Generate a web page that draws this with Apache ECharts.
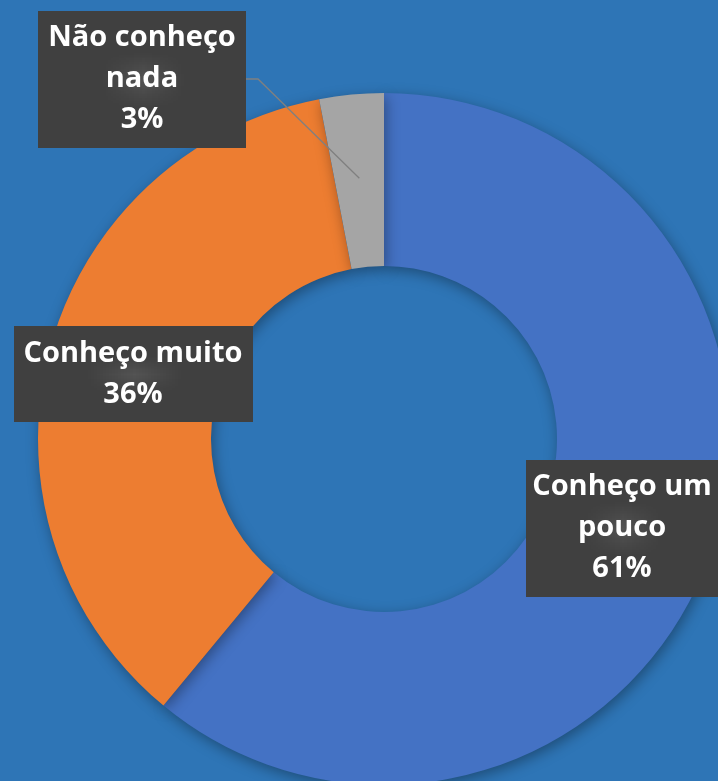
<!DOCTYPE html>
<html>
<head>
    <meta charset="utf-8">
    <title></title>
    <style type="text/css">
        html, body { margin: 0; padding: 0; background: #2E75B6; }
        #main { width: 718px; height: 781px; }
    </style>
</head>
<body>
<div id="main"></div>
<script type="text/javascript" src="https://cdn.jsdelivr.net/npm/echarts@6/dist/echarts.min.js"></script>
<script type="text/javascript">
    var categories = ['Conheço um pouco', 'Conheço muito', 'Não conheço nada'];
    var values = [61, 36, 3];
    var labelTexts = ['Conheço um\npouco', 'Conheço muito', 'Não conheço\nnada'];
    var colors = ['#4472C4', '#ED7D31', '#A5A5A5'];

    // label box centres and widths (layout only)
    var boxPos = [[622, 528], [133, 374], [142, 79]];
    var boxWidth = [178, 225, 194];

    // dotted texture for label boxes
    var pat = document.createElement('canvas');
    pat.width = 5; pat.height = 5;
    var pc = pat.getContext('2d');
    pc.fillStyle = '#404040';
    pc.fillRect(0, 0, 5, 5);
    pc.fillStyle = '#545454';
    pc.fillRect(2, 2, 1, 1);

    function labelText(p) {
        return labelTexts[p.dataIndex] + '\n' + Math.round(p.percent) + '%';
    }

    var myChart = echarts.init(document.getElementById('main'));

    var data = categories.map(function (c, i) {
        return {
            name: c,
            value: values[i],
            itemStyle: { color: colors[i] },
            label: { width: boxWidth[i] }
        };
    });

    // helper ring (invisible) only to anchor the leader line of the small slice
    var anchorData = categories.map(function (c, i) {
        return {
            name: c,
            value: values[i],
            label: { show: i === 2, width: boxWidth[i] },
            labelLine: { show: i === 2 }
        };
    });

    var boxLayout = function (params) {
        var p = boxPos[params.dataIndex];
        return { x: p[0], y: p[1], align: 'center', verticalAlign: 'middle' };
    };

    var textStyle = {
        formatter: labelText,
        fontFamily: 'Open Sans',
        fontWeight: 'bold',
        fontSize: 29,
        lineHeight: 41,
        align: 'center',
        overflow: 'none',
        padding: [11, 7, 3, 7]
    };

    myChart.setOption({
        backgroundColor: '#2E75B6',
        animation: false,
        series: [{
            type: 'pie',
            center: [384, 439],
            radius: [173, 346],
            startAngle: 90,
            clockwise: true,
            itemStyle: {
                shadowBlur: 14,
                shadowColor: 'rgba(0,0,0,0.35)',
                shadowOffsetX: 2,
                shadowOffsetY: 4
            },
            label: echarts.util.extend({
                show: true,
                color: '#ffffff',
                backgroundColor: { image: pat, repeat: 'repeat' }
            }, textStyle),
            labelLine: { show: false },
            labelLayout: boxLayout,
            data: data
        }, {
            type: 'pie',
            silent: true,
            z: 3,
            center: [384, 439],
            radius: [173, 262],
            startAngle: 90,
            clockwise: true,
            itemStyle: { color: 'rgba(0,0,0,0)' },
            label: echarts.util.extend({ color: 'rgba(0,0,0,0)' }, textStyle),
            labelLine: {
                showAbove: true,
                length: 20,
                length2: 12,
                lineStyle: { color: '#808080', width: 1.3 }
            },
            labelLayout: boxLayout,
            data: anchorData
        }]
    });
</script>
</body>
</html>
